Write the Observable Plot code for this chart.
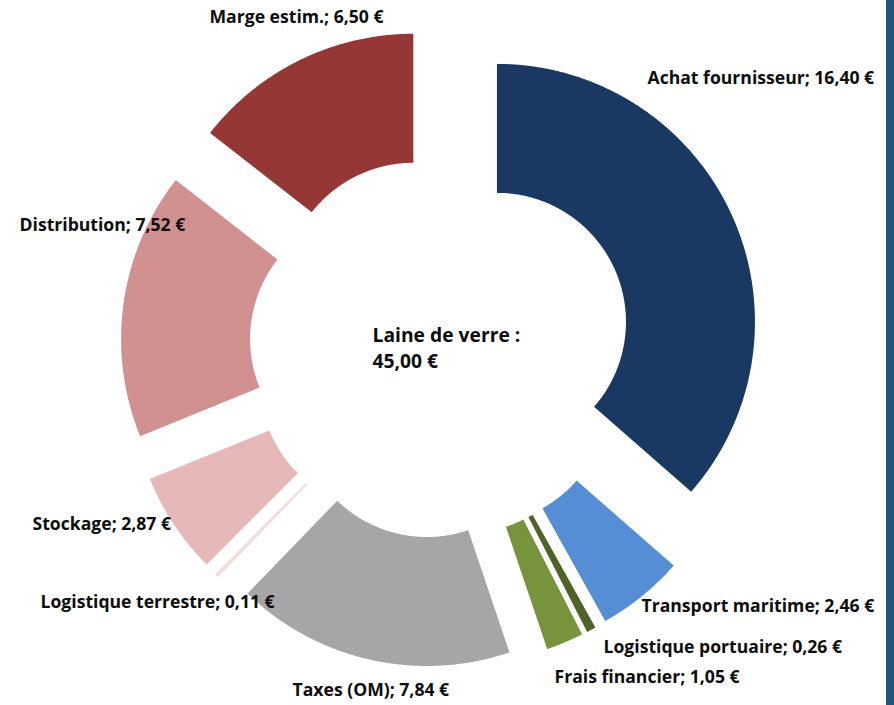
<!DOCTYPE html>
<html>
<head>
<meta charset="utf-8">
<script src="https://cdn.jsdelivr.net/npm/d3@7"></script>
<script src="https://cdn.jsdelivr.net/npm/@observablehq/plot@0.6"></script>
<style>
  html, body { margin: 0; padding: 0; background: #fff; }
  #wrap { width: 886px; height: 705px; border-right: 8px solid #1f5777; overflow: hidden; }
  svg { display: block; }
</style>
</head>
<body>
<div id="wrap"></div>
<script>
// ---- data ----
const categories = ["Achat fournisseur", "Transport maritime", "Logistique portuaire", "Frais financier",
  "Taxes (OM)", "Logistique terrestre", "Stockage", "Distribution", "Marge estim."];
const values = [16.40, 2.46, 0.26, 1.05, 7.84, 0.11, 2.87, 7.52, 6.50];
const valueLabels = ["16,40 €", "2,46 €", "0,26 €", "1,05 €", "7,84 €", "0,11 €", "2,87 €", "7,52 €", "6,50 €"];
const colors = ["#193862", "#558ed5", "#4f6228", "#77933c", "#a6a6a6", "#f2dcdb", "#e6b9b8", "#d19190", "#953735"];
const centerTitle = "Laine de verre :";
const centerValue = "45,00 €";

// ---- layout (chart units: pixels relative to pie centre, y up) ----
const W = 886, H = 705;
const CX = 440, CY = 347;
const R = 258, r = 129, explode = 62;
// label anchors (left edge, vertical middle) in chart units
const labelAnchor = [
  [207, 269], [201, -259], [163, -300], [114, -330],
  [-148, -343], [-400, -255], [-408, -177], [-421, 122], [-231, 330]
];
const centerAnchor = [-68, 1];

// ---- geometry from values ----
const total = d3.sum(values);
let cum = 0;
const slices = values.map((v, i) => {
  const a0 = cum / total * 2 * Math.PI;
  cum += v;
  const a1 = cum / total * 2 * Math.PI;
  return {name: categories[i], a0, a1, mid: (a0 + a1) / 2};
});
const poly = [];
for (const s of slices) {
  const ox = explode * Math.sin(s.mid), oy = explode * Math.cos(s.mid);
  const n = Math.max(2, Math.ceil((s.a1 - s.a0) / 0.005));
  for (let k = 0; k <= n; k++) {
    const a = s.a0 + (s.a1 - s.a0) * k / n;
    poly.push({name: s.name, x: ox + R * Math.sin(a), y: oy + R * Math.cos(a)});
  }
  for (let k = n; k >= 0; k--) {
    const a = s.a0 + (s.a1 - s.a0) * k / n;
    poly.push({name: s.name, x: ox + r * Math.sin(a), y: oy + r * Math.cos(a)});
  }
}
const labels = categories.map((c, i) => ({
  text: `${c}; ${valueLabels[i]}`, x: labelAnchor[i][0], y: labelAnchor[i][1]
}));

const chart = Plot.plot({
  width: W, height: H, margin: 0,
  style: {fontFamily: "'Open Sans', Lato, sans-serif", background: "#fff"},
  x: {axis: null, domain: [-CX, W - CX], range: [0, W]},
  y: {axis: null, domain: [CY - H, CY], range: [H, 0]},
  color: {domain: categories, range: colors},
  marks: [
    Plot.line(poly, {x: "x", y: "y", z: "name", fill: "name", stroke: "none", curve: "linear-closed"}),
    Plot.text(labels, {x: "x", y: "y", text: "text", textAnchor: "start", lineAnchor: "middle",
      fontSize: 17.6, fontWeight: "bold", fill: "#0d0d0d"}),
    Plot.text([centerTitle + "\n" + centerValue], {x: () => centerAnchor[0], y: () => centerAnchor[1],
      text: d => d, textAnchor: "start", lineAnchor: "middle", fontSize: 19.3, fontWeight: "bold",
      lineHeight: 1.35, fill: "#0d0d0d"})
  ]
});
document.getElementById("wrap").appendChild(chart);
</script>
</body>
</html>
